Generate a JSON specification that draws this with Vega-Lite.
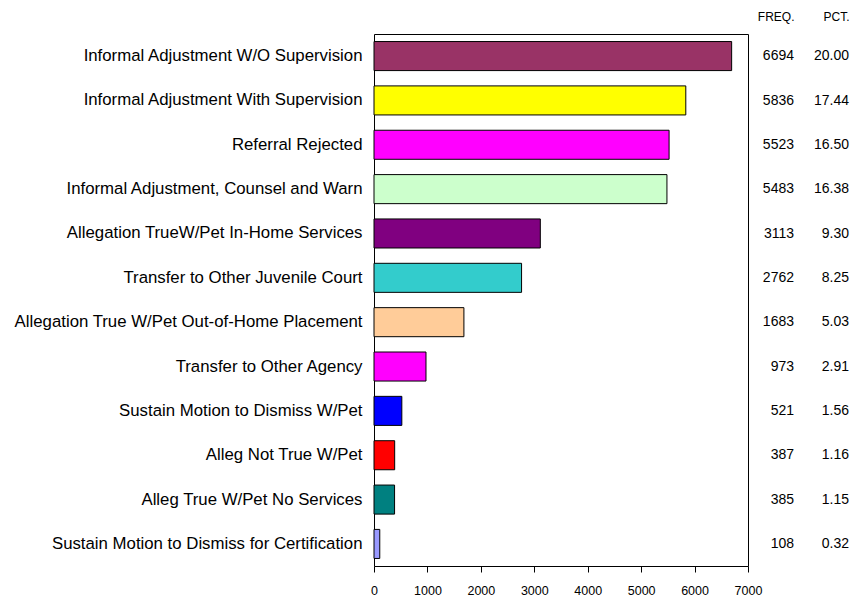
{
  "$schema": "https://vega.github.io/schema/vega-lite/v6.json",
  "background": "white",
  "padding": {"left": 13, "top": 10, "right": 1, "bottom": 5},
  "bounds": "flush",
  "spacing": 46,
  "config": {
    "font": "Liberation Sans",
    "view": {"stroke": "black", "strokeWidth": 1},
    "axis": {"labelFont": "Liberation Sans", "labelColor": "black", "grid": false}
  },
  "datasets": {
    "bars": [
      {"label": "Informal Adjustment W/O Supervision", "freq": 6694, "color": "#993366"},
      {"label": "Informal Adjustment With Supervision", "freq": 5836, "color": "#FFFF00"},
      {"label": "Referral Rejected", "freq": 5523, "color": "#FF00FF"},
      {"label": "Informal Adjustment, Counsel and Warn", "freq": 5483, "color": "#CCFFCC"},
      {"label": "Allegation TrueW/Pet In-Home Services", "freq": 3113, "color": "#800080"},
      {"label": "Transfer to Other Juvenile Court", "freq": 2762, "color": "#33CCCC"},
      {"label": "Allegation True W/Pet Out-of-Home Placement", "freq": 1683, "color": "#FFCC99"},
      {"label": "Transfer to Other Agency", "freq": 973, "color": "#FF00FE"},
      {"label": "Sustain Motion to Dismiss W/Pet", "freq": 521, "color": "#0000FF"},
      {"label": "Alleg Not True W/Pet", "freq": 387, "color": "#FF0000"},
      {"label": "Alleg True W/Pet No Services", "freq": 385, "color": "#008080"},
      {"label": "Sustain Motion to Dismiss for Certification", "freq": 108, "color": "#9999FF"}
    ],
    "table": [
      {"label": "Informal Adjustment W/O Supervision", "col": "FREQ.", "text": "6694"},
      {"label": "Informal Adjustment W/O Supervision", "col": "PCT.", "text": "20.00"},
      {"label": "Informal Adjustment With Supervision", "col": "FREQ.", "text": "5836"},
      {"label": "Informal Adjustment With Supervision", "col": "PCT.", "text": "17.44"},
      {"label": "Referral Rejected", "col": "FREQ.", "text": "5523"},
      {"label": "Referral Rejected", "col": "PCT.", "text": "16.50"},
      {"label": "Informal Adjustment, Counsel and Warn", "col": "FREQ.", "text": "5483"},
      {"label": "Informal Adjustment, Counsel and Warn", "col": "PCT.", "text": "16.38"},
      {"label": "Allegation TrueW/Pet In-Home Services", "col": "FREQ.", "text": "3113"},
      {"label": "Allegation TrueW/Pet In-Home Services", "col": "PCT.", "text": "9.30"},
      {"label": "Transfer to Other Juvenile Court", "col": "FREQ.", "text": "2762"},
      {"label": "Transfer to Other Juvenile Court", "col": "PCT.", "text": "8.25"},
      {"label": "Allegation True W/Pet Out-of-Home Placement", "col": "FREQ.", "text": "1683"},
      {"label": "Allegation True W/Pet Out-of-Home Placement", "col": "PCT.", "text": "5.03"},
      {"label": "Transfer to Other Agency", "col": "FREQ.", "text": "973"},
      {"label": "Transfer to Other Agency", "col": "PCT.", "text": "2.91"},
      {"label": "Sustain Motion to Dismiss W/Pet", "col": "FREQ.", "text": "521"},
      {"label": "Sustain Motion to Dismiss W/Pet", "col": "PCT.", "text": "1.56"},
      {"label": "Alleg Not True W/Pet", "col": "FREQ.", "text": "387"},
      {"label": "Alleg Not True W/Pet", "col": "PCT.", "text": "1.16"},
      {"label": "Alleg True W/Pet No Services", "col": "FREQ.", "text": "385"},
      {"label": "Alleg True W/Pet No Services", "col": "PCT.", "text": "1.15"},
      {"label": "Sustain Motion to Dismiss for Certification", "col": "FREQ.", "text": "108"},
      {"label": "Sustain Motion to Dismiss for Certification", "col": "PCT.", "text": "0.32"}
    ]
  },
  "hconcat": [
    {
      "width": 374,
      "height": 532,
      "data": {"name": "bars"},
      "mark": {"type": "bar", "stroke": "black", "strokeWidth": 1},
      "encoding": {
        "y": {
          "field": "label", "type": "nominal", "sort": null, "title": null,
          "scale": {"paddingInner": 0.345, "paddingOuter": 0.17},
          "axis": {"ticks": false, "domain": false, "labelFontSize": 16.8, "labelPadding": 12, "labelLimit": 500}
        },
        "x": {
          "field": "freq", "type": "quantitative", "title": null,
          "scale": {"domain": [0, 7000], "nice": false},
          "axis": {"values": [0, 1000, 2000, 3000, 4000, 5000, 6000, 7000], "format": "d", "domain": false, "tickColor": "black", "tickSize": 6, "labelFontSize": 12.5, "labelPadding": 12, "labelFlush": false}
        },
        "fill": {"field": "color", "type": "nominal", "scale": null}
      }
    },
    {
      "width": 55,
      "height": 532,
      "view": {"stroke": null},
      "data": {"name": "table"},
      "mark": {"type": "text", "align": "right", "baseline": "middle", "fontSize": 14, "font": "Liberation Sans", "color": "black"},
      "encoding": {
        "y": {
          "field": "label", "type": "nominal", "sort": null, "title": null,
          "scale": {"paddingInner": 0.345, "paddingOuter": 0.17},
          "axis": null
        },
        "x": {
          "field": "col", "type": "nominal", "title": null, "sort": null,
          "scale": {"type": "point", "padding": 0},
          "axis": {"orient": "top", "ticks": false, "domain": false, "labelAngle": 0, "labelAlign": "right", "labelFontSize": 12, "labelPadding": 11}
        },
        "text": {"field": "text", "type": "nominal"}
      }
    }
  ]
}
